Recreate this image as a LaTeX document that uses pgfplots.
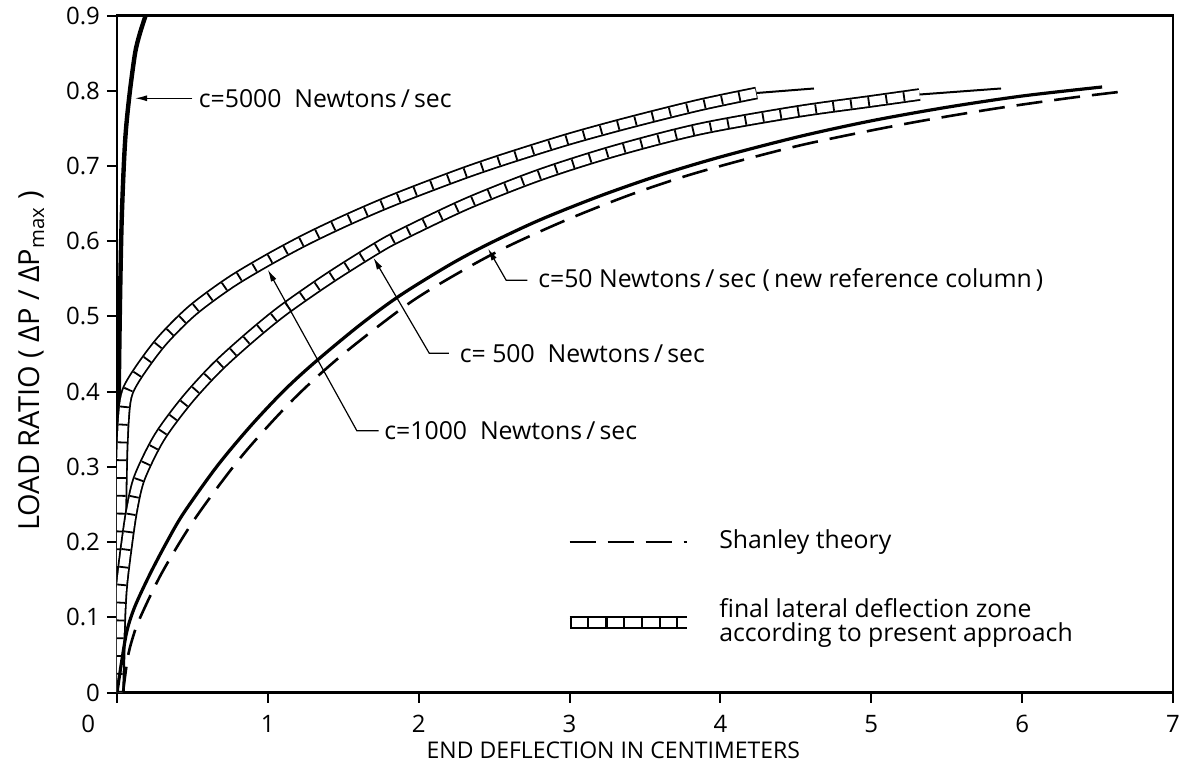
\documentclass[border=0pt]{standalone}
\usepackage{fontspec}
\setmainfont{Open Sans}
\usepackage{pgfplots}
\usepackage{pgfplotstable}
\pgfplotsset{compat=1.18}
\usetikzlibrary{arrows.meta}

% c = 5000 N/s
\pgfplotstableread{
x y
0 0
0.005 0.2
0.012 0.40
0.02 0.52
0.03 0.62
0.045 0.70
0.06 0.75
0.086 0.80
0.12 0.85
0.15 0.875
0.19 0.90
0.21 0.91
}\cfivethousand

% c = 1000 N/s, hatched zone
\pgfplotstableread{
x y
0.01 0.0
0.02 0.15
0.03 0.30
0.045 0.37
0.07 0.40
0.15 0.428
0.30 0.468
0.50 0.508
0.75 0.545
1.0 0.575
1.25 0.602
1.5 0.626
1.75 0.648
2.0 0.668
2.32 0.692
2.6 0.711
3.0 0.736
3.4 0.758
3.86 0.781
4.24 0.797
}\conethousand
\pgfplotstableread{
x y
4.24 0.797
4.62 0.803
}\conethousandtail

% c = 500 N/s, hatched zone
\pgfplotstableread{
x y
0.005 0.0
0.015 0.08
0.03 0.14
0.066 0.20
0.10 0.245
0.15 0.286
0.28 0.339
0.46 0.388
0.66 0.432
0.88 0.472
1.1 0.508
1.4 0.550
1.7 0.588
1.87 0.607
2.32 0.650
2.8 0.688
3.3 0.720
3.86 0.749
4.5 0.772
5.0 0.786
5.32 0.795
}\cfivehundred
\pgfplotstableread{
x y
5.32 0.795
5.86 0.803
}\cfivehundredtail

% c = 50 N/s (new reference column)
\pgfplotstableread{
x y
0 0
0.03 0.04
0.066 0.082
0.12 0.115
0.22 0.158
0.33 0.200
0.44 0.238
0.66 0.300
0.88 0.353
1.1 0.400
1.3 0.437
1.6 0.487
1.87 0.527
2.2 0.568
2.46 0.596
2.8 0.628
3.2 0.660
3.6 0.688
4.0 0.712
4.52 0.739
5.0 0.760
5.5 0.778
6.0 0.793
6.53 0.805
}\cfifty

% Shanley theory
\pgfplotstableread{
x y
0.04 0.0
0.07 0.045
0.10 0.070
0.15 0.098
0.30 0.160
0.52 0.232
0.83 0.315
1.17 0.390
1.5 0.450
1.94 0.518
2.3 0.562
2.6 0.594
3.0 0.630
3.42 0.663
3.86 0.692
4.52 0.727
5.2 0.755
5.78 0.775
6.3 0.790
6.71 0.800
}\shanley

\tikzset{
  zone/.style={line width=0.9pt, double distance=4.5pt, double=white},
  hatch/.style={line width=4.5pt, dash pattern=on 0.9pt off 8pt},
  leader/.style={line width=0.6pt, -{Latex[length=6pt,width=3pt]}},
  lab/.style={font=\fontsize{12.4}{12}\selectfont},
}

\begin{document}
\begin{tikzpicture}
\begin{axis}[
  scale only axis,
  width=528pt, height=338.5pt,
  xmin=0, xmax=7, ymin=0, ymax=0.9,
  xtick={0,1,2,3,4,5,6,7},
  xticklabels={\makebox[0pt][r]{0\hspace{11pt}},1,2,3,4,5,6,7},
  ytick={0,0.1,0.2,0.3,0.4,0.5,0.6,0.7,0.8,0.9},
  yticklabels={0,0.1,0.2,0.3,0.4,0.5,0.6,0.7,0.8,0.9},
  tick align=outside, tick pos=left,
  major tick length=5pt,
  every tick/.style={black, line width=1pt},
  axis line style={line width=1.2pt},
  tick label style={font=\fontsize{12}{14}\selectfont},
  xticklabel style={yshift=-3pt},
  xlabel={END DEFLECTION IN CENTIMETERS},
  ylabel={LOAD RATIO ( ΔP / ΔP\textsubscript{max} )},
  xlabel style={font=\fontsize{11.5}{14}\selectfont, at={(axis description cs:0.47,-0.085)}, anchor=center},
  ylabel style={font=\fontsize{14.5}{18}\selectfont, at={(axis description cs:-0.081,0.49)}, anchor=center},
  every axis plot/.append style={black, smooth, tension=0.5},
]
\addplot[line width=2.2pt] table {\cfivethousand};

\addplot[zone] table {\conethousand};
\addplot[hatch] table {\conethousand};
\addplot[line width=1pt] table {\conethousandtail};

\addplot[zone] table {\cfivehundred};
\addplot[hatch] table {\cfivehundred};
\addplot[line width=1pt] table {\cfivehundredtail};

\addplot[line width=1.6pt] table {\cfifty};
\addplot[line width=1.3pt, dash pattern=on 13pt off 6pt] table {\shanley};

% legend samples
\addplot[line width=1.3pt, dash pattern=on 13pt off 6pt] coordinates {(3.0,0.2) (3.78,0.2)};
\addplot[zone] coordinates {(3.0,0.093) (3.78,0.093)};
\addplot[hatch] coordinates {(3.0,0.093) (3.78,0.093)};

\node[anchor=west, lab, inner sep=0pt] at (axis cs:3.99,0.2) {Shanley theory};
\node[anchor=west, lab, inner sep=0pt, align=left] at (axis cs:3.99,0.093)
  {final lateral deflection zone\\according to present approach};

% annotations
\draw[leader] (axis cs:0.5,0.79) -- (axis cs:0.12,0.79);
\node[anchor=west, lab, inner sep=0pt] at (axis cs:0.54,0.79) {c=5000 \ Newtons\,/\,sec};

\draw[leader] (axis cs:1.735,0.348) -- (axis cs:1.59,0.348) -- (axis cs:1.0,0.562);
\node[anchor=west, lab, inner sep=0pt] at (axis cs:1.77,0.348) {c=1000 \ Newtons\,/\,sec};

\draw[leader] (axis cs:2.2,0.451) -- (axis cs:2.07,0.451) -- (axis cs:1.70,0.578);
\node[anchor=west, lab, inner sep=0pt] at (axis cs:2.27,0.451) {c= 500 \ Newtons\,/\,sec};

\draw[leader] (axis cs:2.72,0.548) -- (axis cs:2.58,0.548) -- (axis cs:2.46,0.590);
\node[anchor=west, lab, inner sep=0pt] at (axis cs:2.79,0.548) {c=50 Newtons\,/\,sec (\,new reference column\,)};

\coordinate (bl) at (rel axis cs:-0.1108,-0.13);
\coordinate (tr) at (rel axis cs:1.0199,1.022);
\end{axis}
\path (bl) rectangle (tr);
\end{tikzpicture}
\end{document}
